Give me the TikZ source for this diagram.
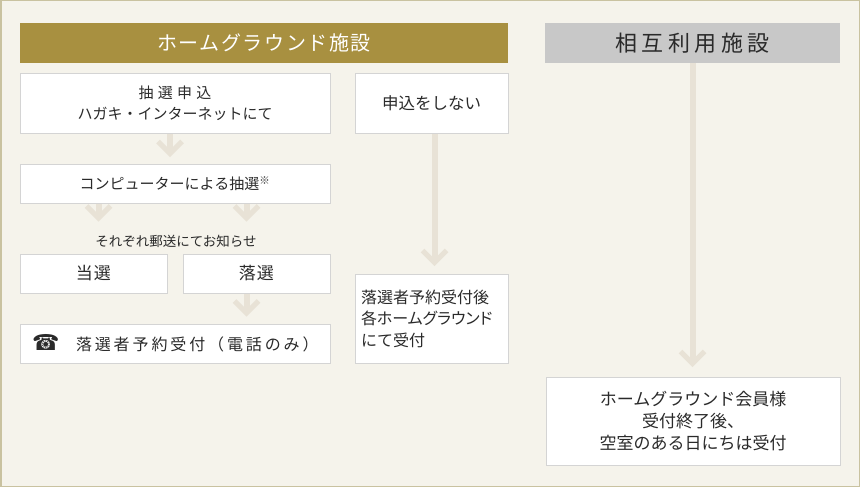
\documentclass[tikz,border=0pt]{standalone}
\usepackage{fontspec}
\setmainfont{Noto Sans CJK JP}
\newfontfamily\sym{DejaVu Sans}
\usetikzlibrary{calc}
\definecolor{bg}{HTML}{F5F3EB}
\definecolor{framec}{HTML}{C9C2A0}
\definecolor{gold}{HTML}{A89040}
\definecolor{hgray}{HTML}{C8C8C8}
\definecolor{arrowc}{HTML}{E8E2D6}
\definecolor{boxline}{HTML}{D4D4D4}
\definecolor{txt}{HTML}{2A2A2A}
\newcommand{\fs}[2]{\fontsize{#1}{#2}\selectfont}
\newcommand{\ls}[1]{\addfontfeature{LetterSpace=#1}}
\begin{document}
\begin{tikzpicture}[x=1pt,y=-1pt,
  box/.style={draw=boxline, line width=1pt, fill=white, text=txt, inner sep=0pt, align=center},
  headbox/.style={inner sep=0pt, align=center},
  shaft/.style={draw=arrowc, line width=6pt},
  chev/.style={draw=arrowc, line width=5pt, line join=miter}]
\useasboundingbox (0,0) rectangle (860,487);
\fill[bg] (0,0) rectangle (860,487);
\draw[framec, line width=1.5pt] (0.75,0.75) rectangle (859.25,486.25);

% headers
\node[headbox, fill=gold, text=white, minimum width=488pt, minimum height=40pt, font={\fs{20}{24}\ls{8}}] (hg) at (264,43) {ホームグラウンド施設};
\node[headbox, fill=hgray, text=txt, minimum width=295pt, minimum height=40pt, font={\fs{22}{26}\ls{20}}] (mu) at (692.5,43) {相互利用施設};

% boxes
\node[box, minimum width=310pt, minimum height=59pt, font=\fs{15}{21}] (b1) at (175,103.5) {{\ls{28}抽選申込}\\ハガキ・インターネットにて};
\node[box, minimum width=153pt, minimum height=59pt, font=\fs{16.5}{20}] (nb) at (431.5,103.5) {申込をしない};
\node[box, minimum width=310pt, minimum height=39pt, font=\fs{15}{20}] (lot) at (175,183.5) {コンピューターによる抽選\textsuperscript{※}};
\node[text=txt, inner sep=0pt, font=\fs{13.5}{16}] (mail) at (176,241) {それぞれ郵送にてお知らせ};
\node[box, minimum width=147pt, minimum height=39pt, font={\fs{17}{20}\ls{6}}] (win) at (93.5,273.5) {当選};
\node[box, minimum width=147pt, minimum height=39pt, font={\fs{17}{20}\ls{6}}] (lose) at (256.5,273.5) {落選};
\node[box, minimum width=310pt, minimum height=39pt, text width=286pt, inner xsep=12pt, align=left, font={\fs{16}{20}}] (tel) at (175,343.5) {\makebox[44pt][l]{\sym\fs{22}{22}☎}{\ls{18}落選者予約受付（電話のみ）}};
\node[box, minimum width=153pt, minimum height=89pt, text width=141pt, inner xsep=6pt, align=left, font={\fs{16}{21.5}}] (after) at (431.5,318.5) {落選者予約受付後\\{\addfontfeature{RawFeature=+palt}各ホームグラウンド}\\にて受付};
\node[box, minimum width=294pt, minimum height=88pt, font={\fs{17}{22}}] (member) at (693,421) {ホームグラウンド会員様\\受付終了後、\\空室のある日にちは受付};

% arrow end points
\coordinate (a1) at (170,153.5);
\coordinate (a2) at (98.5,218);
\coordinate (a3) at (246.5,218);
\coordinate (a4) at (246.5,313);
\coordinate (a5) at (434.5,262.5);
\coordinate (a6) at (692.5,363.5);

\draw[shaft] (b1.south -| a1) -- (a1);
\draw[chev] ($(a1)+(-12,-12)$) -- (a1) -- ($(a1)+(12,-12)$);
\draw[shaft] (lot.south -| a2) -- (a2);
\draw[chev] ($(a2)+(-12,-12)$) -- (a2) -- ($(a2)+(12,-12)$);
\draw[shaft] (lot.south -| a3) -- (a3);
\draw[chev] ($(a3)+(-12,-12)$) -- (a3) -- ($(a3)+(12,-12)$);
\draw[shaft] (lose.south -| a4) -- (a4);
\draw[chev] ($(a4)+(-12,-12)$) -- (a4) -- ($(a4)+(12,-12)$);
\draw[shaft] (nb.south -| a5) -- (a5);
\draw[chev] ($(a5)+(-12,-12)$) -- (a5) -- ($(a5)+(12,-12)$);
\draw[shaft] (mu.south -| a6) -- (a6);
\draw[chev] ($(a6)+(-12,-12)$) -- (a6) -- ($(a6)+(12,-12)$);
\end{tikzpicture}
\end{document}
